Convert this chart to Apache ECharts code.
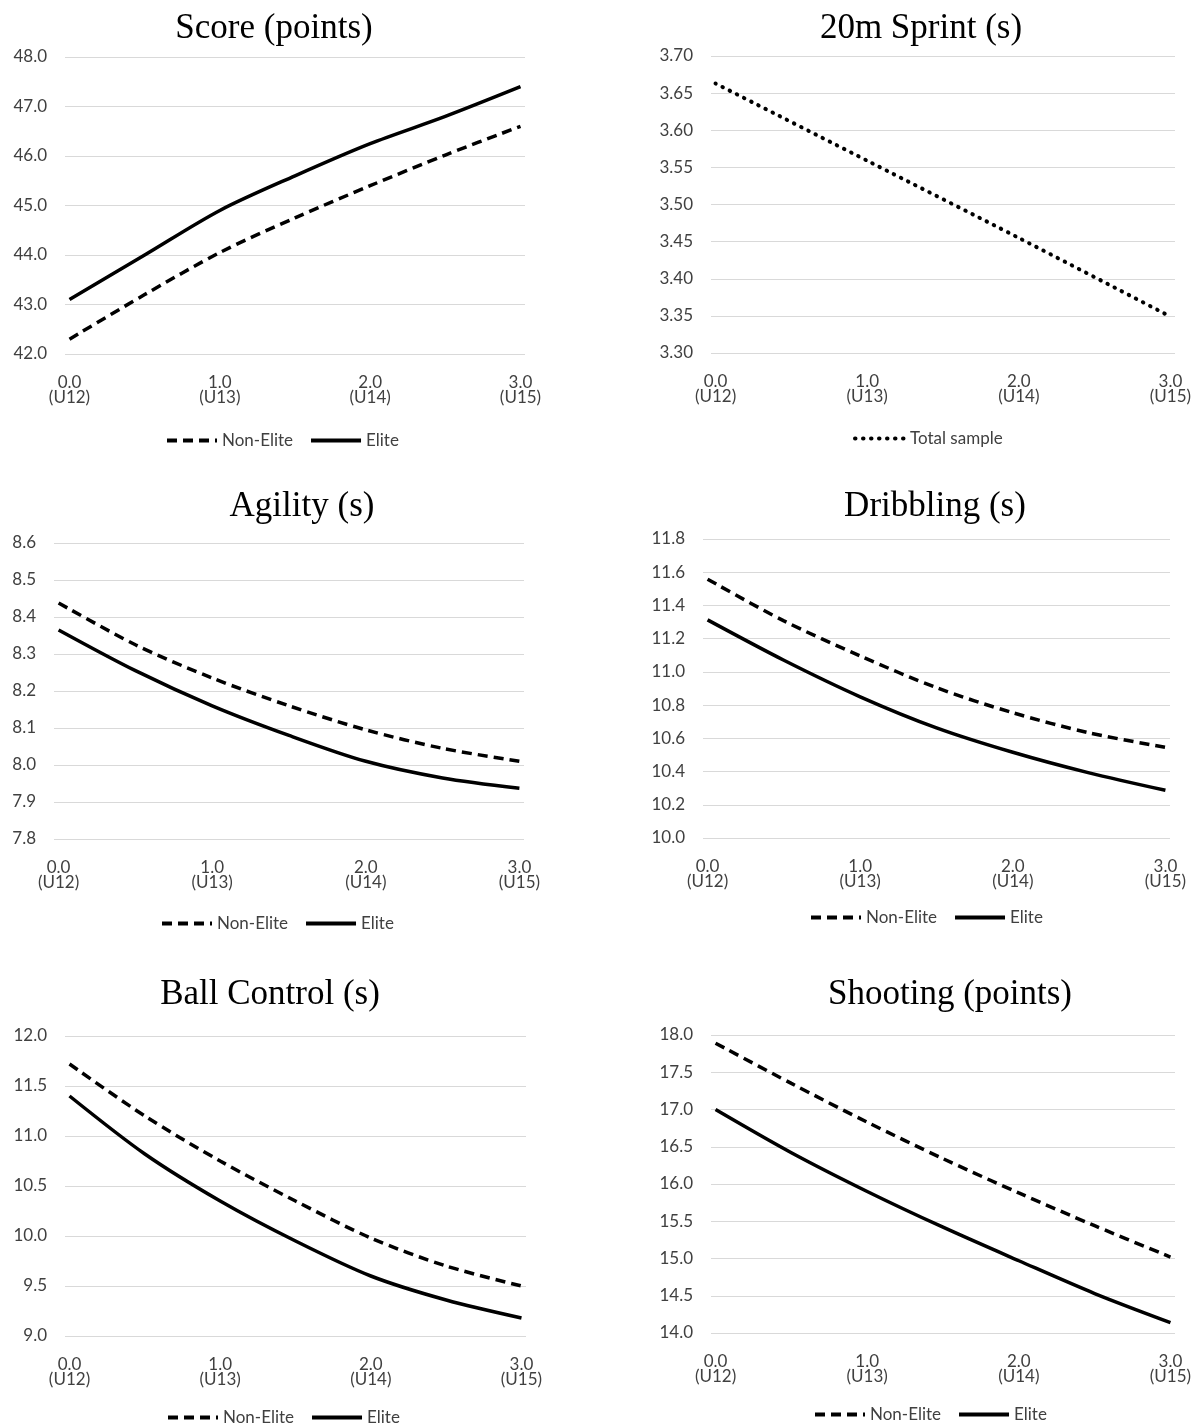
<!DOCTYPE html>
<html>
<head>
<meta charset="utf-8">
<script src="https://cdn.jsdelivr.net/npm/echarts@6/dist/echarts.min.js"></script>
<style>
  html, body { margin: 0; padding: 0; background: #fff; }
  #main { width: 1200px; height: 1423px; }
</style>
</head>
<body>
<div id="main"></div>
<script>
var chartDom = document.getElementById('main');
var myChart = echarts.init(chartDom);

// years since U12 (0.0 = U12 ... 3.0 = U15)
var xs = [0, 0.5, 1, 1.5, 2, 2.5, 3];
var xsSprint = [0, 1, 2, 3];
var ageLabels = ['U12', 'U13', 'U14', 'U15'];

var scoreNonElite = [42.3, 43.2, 44.05, 44.75, 45.4, 46.02, 46.6];
var scoreElite = [43.1, 44.0, 44.9, 45.6, 46.25, 46.8, 47.4];

var sprintTotal = [3.663, 3.559, 3.455, 3.349];

var agilityNonElite = [8.438, 8.325, 8.235, 8.16, 8.095, 8.045, 8.01];
var agilityElite = [8.365, 8.255, 8.16, 8.08, 8.01, 7.965, 7.937];

var dribblingNonElite = [11.558, 11.307, 11.096, 10.905, 10.754, 10.633, 10.546];
var dribblingElite = [11.313, 11.07, 10.85, 10.663, 10.516, 10.392, 10.287];

var ballNonElite = [11.72, 11.2, 10.75, 10.35, 9.98, 9.7, 9.5];
var ballElite = [11.4, 10.82, 10.35, 9.95, 9.6, 9.36, 9.18];

var shootNonElite = [17.89, 17.35, 16.83, 16.34, 15.88, 15.44, 15.02];
var shootElite = [17.0, 16.42, 15.9, 15.42, 14.97, 14.53, 14.14];

var panels = [
  { title: 'Score (points)', tx: 269, ty: 6, grid: [65, 525, 57, 354], y: [42, 48, 1, 1],
    legend: { left: 160, top: 427 }, lines: [['Non-Elite', xs, scoreNonElite], ['Elite', xs, scoreElite]] },
  { title: '20m Sprint (s)', tx: 916, ty: 6, grid: [711, 1175, 56, 353], y: [3.3, 3.7, 0.05, 2],
    legend: { left: 848, top: 425 }, lines: [['Total sample', xsSprint, sprintTotal]] },
  { title: 'Agility (s)', tx: 297, ty: 484, grid: [54, 524, 543, 839], y: [7.8, 8.6, 0.1, 1],
    legend: { left: 155, top: 910 }, lines: [['Non-Elite', xs, agilityNonElite], ['Elite', xs, agilityElite]] },
  { title: 'Dribbling (s)', tx: 930, ty: 484, grid: [703, 1170, 539, 838], y: [10, 11.8, 0.2, 1],
    legend: { left: 804, top: 904 }, lines: [['Non-Elite', xs, dribblingNonElite], ['Elite', xs, dribblingElite]] },
  { title: 'Ball Control (s)', tx: 265, ty: 972, grid: [65, 526, 1036, 1336], y: [9, 12, 0.5, 1],
    legend: { left: 161, top: 1404 }, lines: [['Non-Elite', xs, ballNonElite], ['Elite', xs, ballElite]] },
  { title: 'Shooting (points)', tx: 945, ty: 972, grid: [711, 1175, 1035, 1333], y: [14, 18, 0.5, 1],
    legend: { left: 808, top: 1401 }, lines: [['Non-Elite', xs, shootNonElite], ['Elite', xs, shootElite]] }
];

var styles = {
  'Non-Elite': { color: '#000', width: 3.5, type: [10, 6] },
  'Elite': { color: '#000', width: 3.5, type: 'solid' },
  'Total sample': { color: '#000', width: 4, type: [0.5, 7.5], cap: 'round' }
};

var font = 'Lato, "Open Sans", sans-serif';
var option = { backgroundColor: '#fff', animation: false, title: [], grid: [], xAxis: [], yAxis: [], legend: [], series: [] };

panels.forEach(function (p, i) {
  option.title.push({
    text: p.title, left: p.tx, top: p.ty, textAlign: 'center',
    textStyle: { fontFamily: '"Liberation Serif", "Times New Roman", serif', fontSize: 35, fontWeight: 'normal', color: '#000' }
  });
  option.grid.push({ left: p.grid[0], width: p.grid[1] - p.grid[0], top: p.grid[2], height: p.grid[3] - p.grid[2] });
  option.xAxis.push({
    type: 'value', gridIndex: i, min: -0.03, max: 3.03,
    axisLine: { show: false }, axisTick: { show: false }, splitLine: { show: false },
    axisLabel: {
      customValues: [0, 1, 2, 3], margin: 21, lineHeight: 15,
      fontFamily: font, fontSize: 17, color: '#404040',
      formatter: function (v) { return v.toFixed(1) + '\n(' + ageLabels[Math.round(v)] + ')'; }
    }
  });
  option.yAxis.push({
    type: 'value', gridIndex: i, min: p.y[0], max: p.y[1], interval: p.y[2],
    axisLine: { show: false }, axisTick: { show: false },
    splitLine: { lineStyle: { color: '#d9d9d9', width: 1 } },
    axisLabel: {
      margin: 18, fontFamily: font, fontSize: 17, color: '#404040',
      formatter: (function (d) { return function (v) { return v.toFixed(d); }; })(p.y[3])
    }
  });
  option.legend.push({
    data: p.lines.map(function (l) { return l[0]; }),
    left: p.legend.left, top: p.legend.top, itemWidth: 50, itemHeight: 14, itemGap: 16,
    itemStyle: { opacity: 0 },
    lineStyle: { width: 4 },
    textStyle: { fontFamily: font, fontSize: 17, color: '#404040' }
  });
  p.lines.forEach(function (l) {
    option.series.push({
      name: l[0], type: 'line', xAxisIndex: i, yAxisIndex: i,
      data: l[1].map(function (x, k) { return [x, l[2][k]]; }),
      smooth: 0.3, symbol: 'none', itemStyle: { color: '#000' }, lineStyle: styles[l[0]]
    });
  });
});

myChart.setOption(option);
window.addEventListener('resize', myChart.resize);
</script>
</body>
</html>
